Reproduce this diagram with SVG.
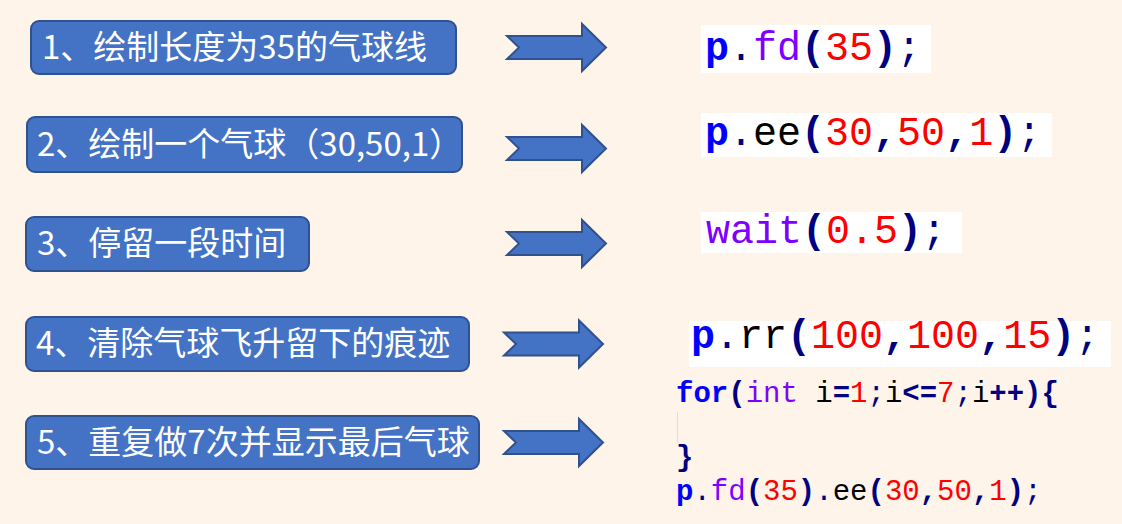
<svg xmlns="http://www.w3.org/2000/svg" width="1122" height="524" viewBox="0 0 1122 524">
<style>
.box{fill:#4472C4;stroke:#2F528F;stroke-width:2}
.lbl{font-family:"Noto Sans CJK SC","Microsoft YaHei",sans-serif;font-size:33px;fill:#FFFFFF}
.arr{fill:#4472C4;stroke:#2F528F;stroke-width:2;stroke-linejoin:miter}
.cbg{fill:#FFFFFF}
.code{font-family:"Liberation Mono","Courier New",monospace;font-size:40px;fill:#000000}
.code5{font-family:"Liberation Mono","Courier New",monospace;font-size:29px;fill:#000000}
.kw{fill:#0000FF;font-weight:bold}
.op{fill:#000080;font-weight:bold}
.dot{fill:#000080}
.fn{fill:#8000FF}
.num{fill:#FF0000}
.tx{fill:#000000}
</style>
<defs>
<path id="arrowShape" d="M0,-11.5 L75,-11.5 L75,-23.5 L99,0 L75,23.5 L75,11.5 L0,11.5 L12,0 Z"/>
</defs>
<rect x="0" y="0" width="1122" height="524" fill="#FEF4E9"/>

<g id="step1"><rect class="box" x="31" y="21" width="425" height="53" rx="8"/><text class="lbl" x="42" y="59">1、绘制长度为35的气球线</text></g>
<g id="step2"><rect class="box" x="27" y="117" width="435" height="55" rx="8"/><text class="lbl" x="37" y="156">2、绘制一个气球（30,50,1）</text></g>
<g id="step3"><rect class="box" x="26" y="217" width="283" height="54" rx="8"/><text class="lbl" x="37" y="255">3、停留一段时间</text></g>
<g id="step4"><rect class="box" x="26" y="317" width="443" height="54" rx="8"/><text class="lbl" x="36" y="355">4、清除气球飞升留下的痕迹</text></g>
<g id="step5"><rect class="box" x="26" y="416" width="453" height="53" rx="8"/><text class="lbl" x="37" y="454">5、重复做7次并显示最后气球</text></g>

<g id="connectors">
<use href="#arrowShape" class="arr" transform="translate(507,47.5)"/>
<use href="#arrowShape" class="arr" transform="translate(507,148.5)"/>
<use href="#arrowShape" class="arr" transform="translate(507,243.5)"/>
<use href="#arrowShape" class="arr" transform="translate(504,344)"/>
<use href="#arrowShape" class="arr" transform="translate(504,442.5)"/>
</g>

<g id="code1"><rect class="cbg" x="701" y="25" width="230" height="48"/>
<text class="code" x="705" y="60"><tspan class="kw">p</tspan><tspan class="dot">.</tspan><tspan class="fn">fd</tspan><tspan class="op">(</tspan><tspan class="num">35</tspan><tspan class="op">)</tspan><tspan class="dot">;</tspan></text></g>
<g id="code2"><rect class="cbg" x="701" y="113" width="351" height="44"/>
<text class="code" x="705" y="145"><tspan class="kw">p</tspan><tspan class="dot">.</tspan><tspan class="tx">ee</tspan><tspan class="op">(</tspan><tspan class="num">30</tspan><tspan class="op">,</tspan><tspan class="num">50</tspan><tspan class="op">,</tspan><tspan class="num">1</tspan><tspan class="op">)</tspan><tspan class="dot">;</tspan></text></g>
<g id="code3"><rect class="cbg" x="701" y="212" width="261" height="41"/>
<text class="code" x="706" y="243"><tspan class="fn">wait</tspan><tspan class="op">(</tspan><tspan class="num">0.5</tspan><tspan class="op">)</tspan><tspan class="dot">;</tspan></text></g>
<g id="code4"><rect class="cbg" x="689" y="321" width="422" height="46"/>
<text class="code" x="691" y="348"><tspan class="kw">p</tspan><tspan class="dot">.</tspan><tspan class="tx">rr</tspan><tspan class="op">(</tspan><tspan class="num">100</tspan><tspan class="op">,</tspan><tspan class="num">100</tspan><tspan class="op">,</tspan><tspan class="num">15</tspan><tspan class="op">)</tspan><tspan class="dot">;</tspan></text></g>
<g id="code5">
<line x1="677.5" y1="412" x2="677.5" y2="443" stroke="#DDDDDD" stroke-width="1"/>
<text class="code5" x="676" y="402" xml:space="preserve"><tspan class="kw">for</tspan><tspan class="op">(</tspan><tspan class="fn">int</tspan><tspan class="tx"> i</tspan><tspan class="op">=</tspan><tspan class="num">1</tspan><tspan class="dot">;</tspan><tspan class="tx">i</tspan><tspan class="op">&lt;=</tspan><tspan class="num">7</tspan><tspan class="dot">;</tspan><tspan class="tx">i</tspan><tspan class="op">++){</tspan></text>
<text class="code5" x="676" y="466"><tspan class="op">}</tspan></text>
<text class="code5" x="676" y="500"><tspan class="kw">p</tspan><tspan class="dot">.</tspan><tspan class="fn">fd</tspan><tspan class="op">(</tspan><tspan class="num">35</tspan><tspan class="op">)</tspan><tspan class="dot">.</tspan><tspan class="tx">ee</tspan><tspan class="op">(</tspan><tspan class="num">30</tspan><tspan class="op">,</tspan><tspan class="num">50</tspan><tspan class="op">,</tspan><tspan class="num">1</tspan><tspan class="op">)</tspan><tspan class="dot">;</tspan></text>
</g>
</svg>
